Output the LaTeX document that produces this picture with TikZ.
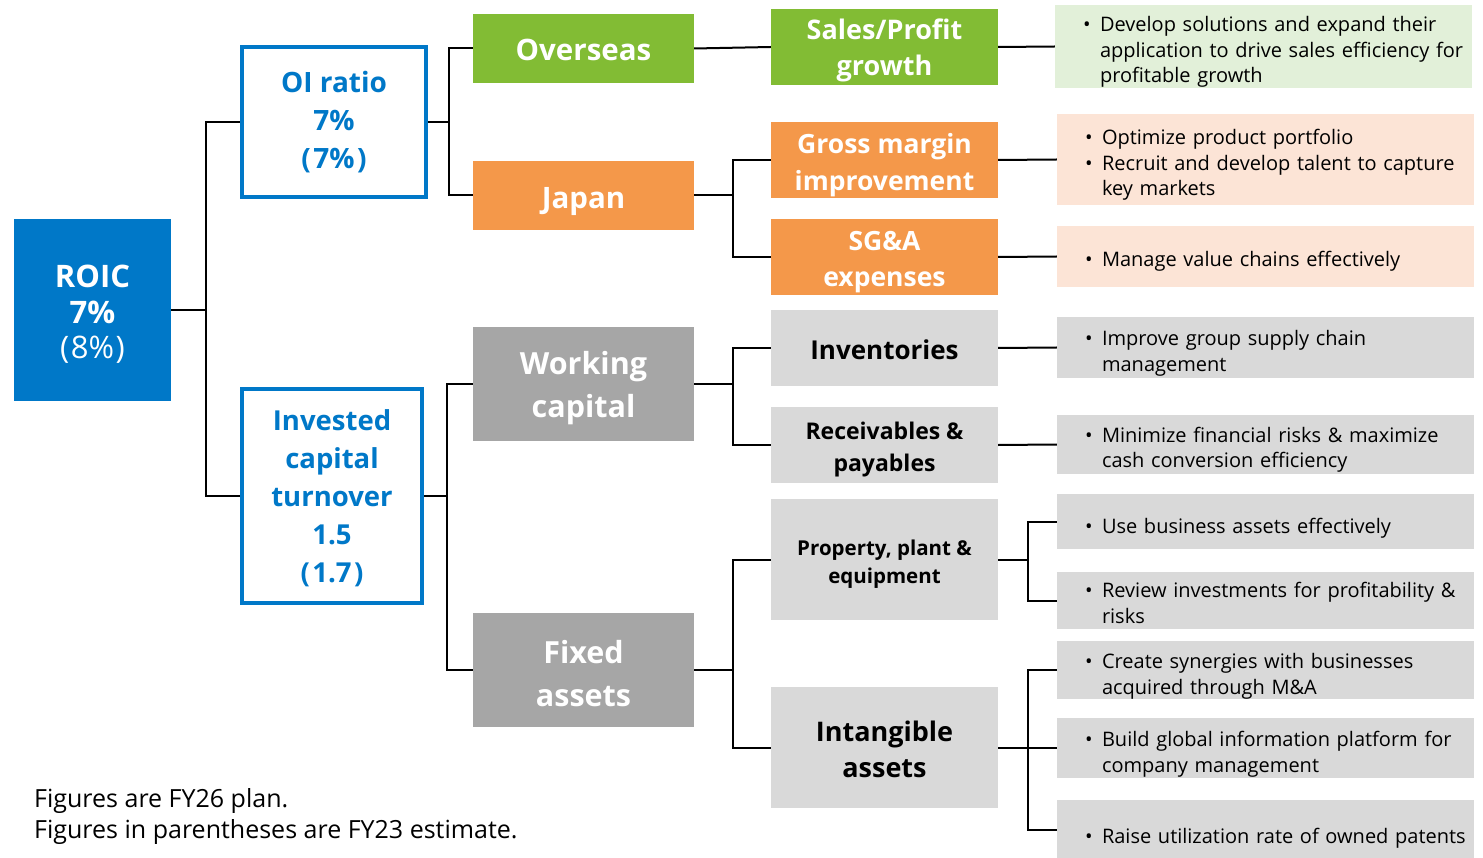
\documentclass[tikz,border=0pt]{standalone}
\usepackage{fontspec}
\setmainfont{Open Sans}
\definecolor{roicblue}{HTML}{0078C8}
\definecolor{ovgreen}{HTML}{82BC34}
\definecolor{jporange}{HTML}{F4984A}
\definecolor{dgray}{HTML}{A6A6A6}
\definecolor{lgray}{HTML}{D9D9D9}
\definecolor{lgreen}{HTML}{E2F0D9}
\definecolor{lorange}{HTML}{FCE4D6}
\newcommand\bl{\makebox[17pt][l]{•}}
\newcommand\fs[2]{\fontsize{#1}{#2}\selectfont}
\newcommand\tx[2]{\raisebox{-#1}[\height][\depth]{\begin{tabular}{@{}c@{}}#2\end{tabular}}}
\newcommand\blist[2]{\raisebox{-#1}[\height][\depth]{\begin{tabular}{@{}l@{}l@{}}#2\end{tabular}}}
\newcommand\pl{(\kern2.5pt}
\newcommand\pr{\kern2.5pt)}
\begin{document}
\begin{tikzpicture}[x=1pt,y=-1pt,
  box/.style={rectangle, inner sep=0pt},
  kpi/.style={box, draw=roicblue, line width=4pt, fill=white, text=roicblue},
  green/.style={box, fill=ovgreen, text=white},
  orange/.style={box, fill=jporange, text=white},
  dark/.style={box, fill=dgray, text=white},
  light/.style={box, fill=lgray, text=black},
  col2/.style={minimum width=221pt, minimum height=69pt},
  col3/.style={minimum width=227pt},
  bulbox/.style={rectangle, inner xsep=28pt, inner ysep=0pt, text width=361pt, align=left, font=\fs{20}{25.5}},
  conn/.style={line width=2pt, black}
]
\useasboundingbox (0,0) rectangle (1483,858);

% level 0
\node[box, fill=roicblue, text=white, minimum width=157pt, minimum height=182pt, font=\fs{31}{35.5}\bfseries] (roic) at (92.5,310) {\tx{6pt}{ROIC\\7\%\\{\mdseries(\kern1.5pt 8\%\kern1.5pt)}}};

% level 1
\node[kpi, minimum width=184pt, minimum height=150pt, font=\fs{28}{38}\bfseries] (oi) at (334,122) {\tx{1.4pt}{OI ratio\\7\%\\\pl7\%\pr}};
\node[kpi, minimum width=180pt, minimum height=214pt, font=\fs{27.5}{38}\bfseries] (inv) at (332,496) {\tx{2.4pt}{Invested\\capital\\turnover\\1.5\\\pl1.7\pr}};

% level 2
\node[green, col2, font=\fs{29.5}{40}\bfseries] (ov) at (583.5,48.5) {\tx{4.5pt}{Overseas}};
\node[orange, col2, font=\fs{29.5}{40}\bfseries] (jp) at (583.5,195.5) {\tx{5.5pt}{Japan}};
\node[dark, col2, minimum height=114pt, font=\fs{30.5}{43}\bfseries] (wc) at (583.5,384) {\tx{3.9pt}{Working\\capital}};
\node[dark, col2, minimum height=114pt, font=\fs{30.5}{43}\bfseries] (fx) at (583.5,670) {\tx{5.9pt}{Fixed\\assets}};

% level 3
\node[green, col3, minimum height=76pt, font=\fs{27}{36}\bfseries] (sp) at (884.5,47) {\tx{3.8pt}{Sales/Profit\\growth}};
\node[orange, col3, minimum height=76pt, font=\fs{26.5}{37}\bfseries] (gm) at (884.5,160) {\tx{5.1pt}{Gross margin\\improvement}};
\node[orange, col3, minimum height=76pt, font=\fs{26.5}{35.5}\bfseries] (sga) at (884.5,257) {\tx{4.65pt}{SG\&A\\expenses}};
\node[light, col3, minimum height=76pt, font=\fs{26}{35}\bfseries] (ivt) at (884.5,348) {\tx{5pt}{Inventories}};
\node[light, col3, minimum height=76pt, font=\fs{23}{32}\bfseries] (rec) at (884.5,445) {\tx{3.6pt}{Receivables \&\\payables}};
\node[light, col3, minimum height=121pt, font=\fs{20.5}{28}\bfseries] (ppe) at (884.5,559.5) {\tx{3.9pt}{Property, plant \&\\equipment}};
\node[light, col3, minimum height=121pt, font=\fs{27}{36}\bfseries] (itg) at (884.5,747.5) {\tx{4.3pt}{Intangible\\assets}};

% level 4 (measures)
\node[bulbox, fill=lgreen, minimum height=83pt] (g1) at (1263.5,46.5) {\blist{5.9pt}{\bl & Develop solutions and expand their\\ & application to drive sales efficiency for\\ & profitable growth}};
\node[bulbox, fill=lorange, minimum height=91pt] (o1) at (1265.5,159.5) {\blist{5.9pt}{\bl & Optimize product portfolio\\ \bl & Recruit and develop talent to capture\\ & key markets}};
\node[bulbox, fill=lorange, minimum height=61pt] (o2) at (1265.5,256.5) {\blist{5.4pt}{\bl & Manage value chains effectively}};
\node[bulbox, fill=lgray, minimum height=61pt] (b1) at (1265.5,347.5) {\blist{6.1pt}{\bl & Improve group supply chain\\ & management}};
\node[bulbox, fill=lgray, minimum height=59pt] (b2) at (1265.5,444.5) {\blist{5.6pt}{\bl & Minimize financial risks \& maximize\\ & cash conversion efficiency}};
\node[bulbox, fill=lgray, minimum height=55pt] (b3) at (1265.5,521.5) {\blist{6.4pt}{\bl & Use business assets effectively}};
\node[bulbox, fill=lgray, minimum height=57pt] (b4) at (1265.5,600.5) {\blist{5.1pt}{\bl & Review investments for profitability \&\\ & risks}};
\node[bulbox, fill=lgray, minimum height=58pt] (b5) at (1265.5,670) {\blist{6.6pt}{\bl & Create synergies with businesses\\ & acquired through M\&A}};
\node[bulbox, fill=lgray, minimum height=60pt] (b6) at (1265.5,748) {\blist{6.6pt}{\bl & Build global information platform for\\ & company management}};
\node[bulbox, fill=lgray, minimum height=60pt] (b7) at (1265.5,830) {\blist{7.9pt}{\bl & Raise utilization rate of owned patents}};

% footnote
\node[anchor=north west, inner sep=0pt, font=\fs{25}{31.5}] (note) at (34,785) {\begin{tabular}{@{}l@{}}Figures are FY26 plan.\\Figures in parentheses are FY23 estimate.\end{tabular}};

% junctions
\coordinate (j1) at (206,310);
\coordinate (j2) at (449,122);
\coordinate (j3) at (447,496);
\coordinate (j4) at (733,195.5);
\coordinate (j5) at (733,384);
\coordinate (j6) at (733,670);
\coordinate (j7) at (1028,559.5);
\coordinate (j8) at (1028,747.5);

\draw[conn] (roic.east) -- (j1);
\draw[conn] (j1) |- (oi.west);
\draw[conn] (j1) |- (inv.west);
\draw[conn] (oi.east) -- (j2);
\draw[conn] (j2) |- (ov.west);
\draw[conn] (j2) |- (jp.west);
\draw[conn] (inv.east) -- (j3);
\draw[conn] (j3) |- (wc.west);
\draw[conn] (j3) |- (fx.west);
\draw[conn] (ov.east) -- (sp.west);
\draw[conn] (jp.east) -- (j4);
\draw[conn] (j4) |- (gm.west);
\draw[conn] (j4) |- (sga.west);
\draw[conn] (wc.east) -- (j5);
\draw[conn] (j5) |- (ivt.west);
\draw[conn] (j5) |- (rec.west);
\draw[conn] (fx.east) -- (j6);
\draw[conn] (j6) |- (ppe.west);
\draw[conn] (j6) |- (itg.west);
\draw[conn] (sp.east) -- (g1.west);
\draw[conn] (gm.east) -- (o1.west);
\draw[conn] (sga.east) -- (o2.west);
\draw[conn] (ivt.east) -- (b1.west);
\draw[conn] (rec.east) -- (b2.west);
\draw[conn] (ppe.east) -- (j7);
\draw[conn] (j7) |- (b3.west);
\draw[conn] (j7) |- (b4.west);
\draw[conn] (itg.east) -- (j8);
\draw[conn] (j8) |- (b5.west);
\draw[conn] (j8) |- (b6.west);
\draw[conn] (j8) |- (b7.west);
\end{tikzpicture}
\end{document}
